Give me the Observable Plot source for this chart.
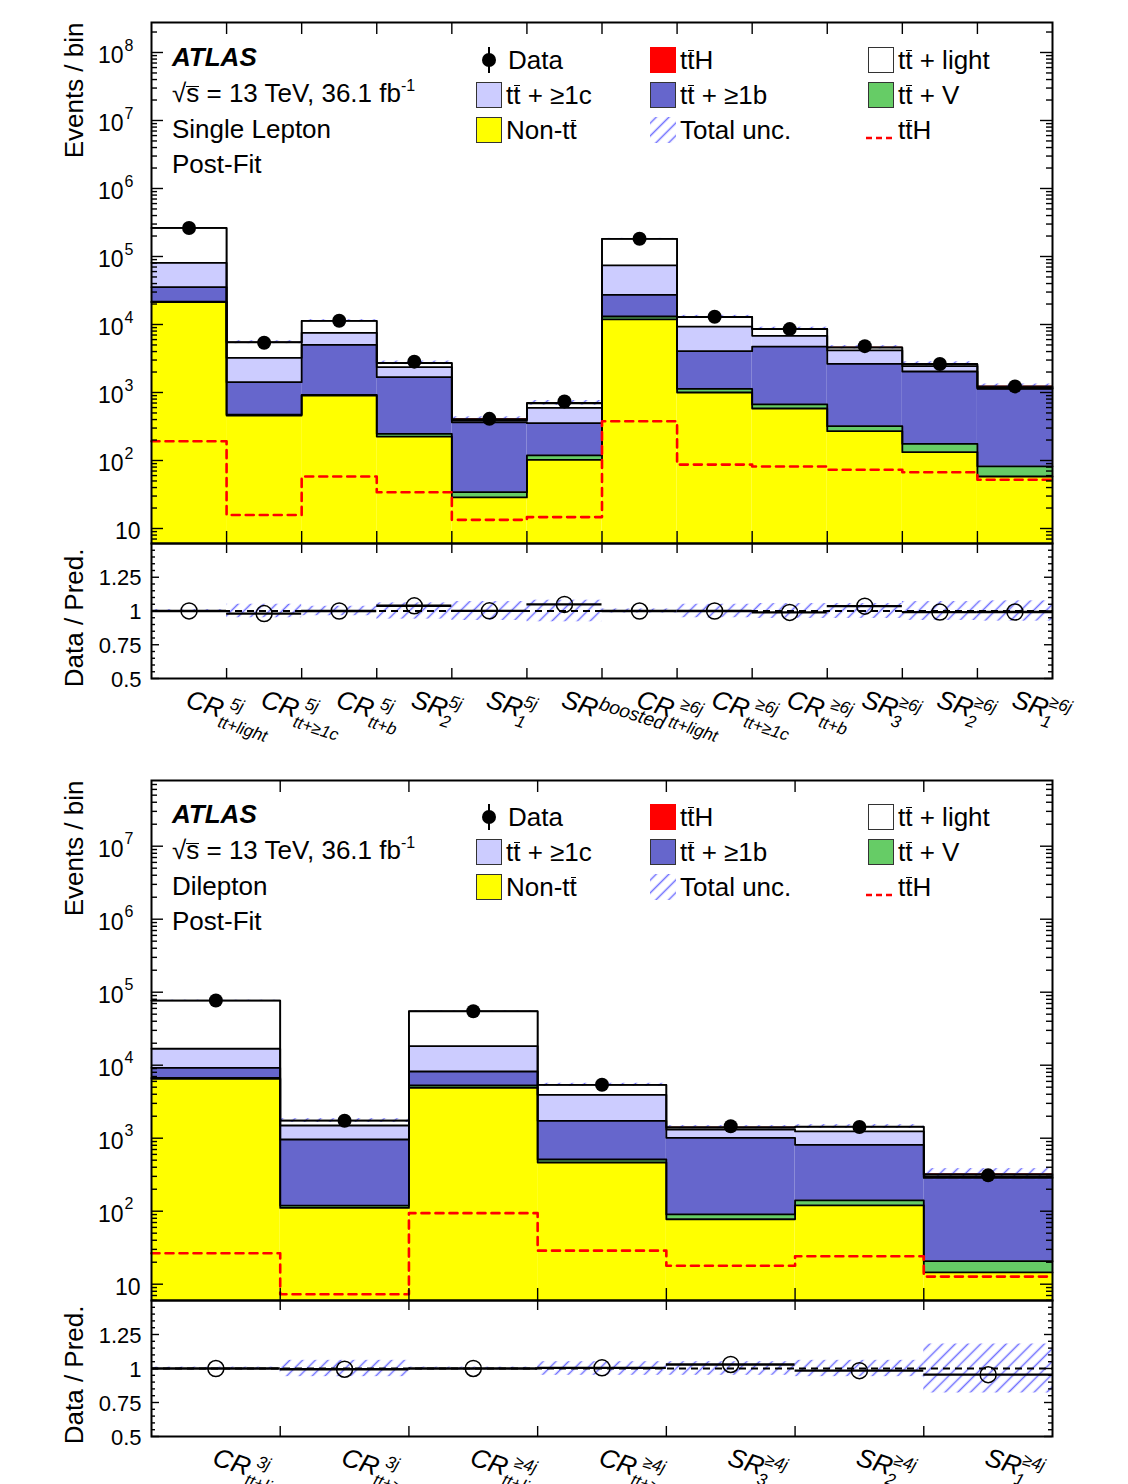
<!DOCTYPE html>
<html>
<head>
<meta charset="utf-8">
<script src="https://cdn.jsdelivr.net/npm/d3@7"></script>
<script src="https://cdn.jsdelivr.net/npm/@observablehq/plot@0.6"></script>
<style>
html,body{margin:0;padding:0;background:#fff;}
#root{position:relative;width:1128px;height:1484px;overflow:hidden;font-family:"Liberation Sans",Arial,Helvetica,sans-serif;color:#000;}
.lbl{position:absolute;white-space:nowrap;line-height:1;transform:translateY(-50%);font-size:26px;}
.ob{position:relative;display:inline-block;}
.ob::after{content:"";position:absolute;left:0.04em;right:0.02em;top:0.1em;border-top:1.6px solid currentColor;}
.os{position:relative;display:inline-block;}
.os::after{content:"";position:absolute;left:-0.02em;right:0;top:0.22em;border-top:1.6px solid currentColor;}
.box{position:absolute;width:26px;height:26px;box-sizing:border-box;border:1.5px solid #333;}
sup{font-size:16px;vertical-align:0;position:relative;top:-11px;}
.abs{position:absolute;}
</style>
</head>
<body>
<svg width="0" height="0" style="position:absolute">
  <defs>
    <pattern id="hatch" patternUnits="userSpaceOnUse" width="9" height="9" patternTransform="rotate(45)">
      <line x1="4.5" y1="0" x2="4.5" y2="9" stroke="#6f6fff" stroke-width="1.5"/>
    </pattern>
  </defs>
</svg>
<div id="root"></div>
<script>
// ---------------- Single Lepton ----------------
const slMain = ["CR","CR","CR","SR","SR","SR","CR","CR","CR","SR","SR","SR"];
const slSup  = ["5j","5j","5j","5j","5j","boosted","≥6j","≥6j","≥6j","≥6j","≥6j","≥6j"];
const slSub  = ["tt+light","tt+≥1c","tt+b","2","1","","tt+light","tt+≥1c","tt+b","3","2","1"];
const slNonTT   = [21280, 459, 904, 225, 28.6, 102, 11860, 1000, 582, 270, 132.7, 58.2];
const slTTV     = [350, 14, 19, 22, 5.6, 16.6, 1260, 132, 85, 50, 43, 24];
const slTTB     = [13770, 943, 4089, 1432, 331, 235, 14230, 2914, 4075, 2322, 1861, 1050];
const slTTC     = [45300, 1820, 2539, 676, 23.4, 242, 46440, 5287, 2081, 1508, 401, 21];
const slTTLight = [182000, 2246, 3750, 351, 10, 98, 107900, 3564, 1758, 423, 147, 42];
const slTTH     = [160, 13, 49, 29, 11, 12, 318, 73, 69, 61, 57, 44];
const slTTHLine = [192, 15.8, 58.2, 34.2, 13.4, 14.7, 378, 87, 81.7, 73, 67.3, 52];
const slData    = [263000, 5390, 11350, 2840, 410, 740, 182000, 12970, 8560, 4800, 2620, 1230];
const slUnc     = [0.01, 0.05, 0.035, 0.06, 0.07, 0.08, 0.015, 0.05, 0.055, 0.055, 0.07, 0.075];

// ---------------- Dilepton ----------------
const dlMain = ["CR","CR","CR","CR","SR","SR","SR"];
const dlSup  = ["3j","3j","≥4j","≥4j","≥4j","≥4j","≥4j"];
const dlSub  = ["tt+light","tt+≥1c","tt+light","tt+≥1c","3","2","1"];
const dlNonTT   = [6516, 111, 4898, 465, 77.6, 120, 14.5];
const dlTTV     = [198, 8.3, 374, 46, 12.6, 20.6, 6.2];
const dlTTB     = [2490, 840, 2932, 1220, 922, 671, 265];
const dlTTC     = [7586, 534, 9996, 2196, 303, 425, 9];
const dlTTLight = [60100, 247, 36670, 1433, 86, 189, 19];
const dlTTH     = [22, 6, 79, 24, 15, 20, 11];
const dlTTHLine = [26.6, 7.3, 94, 28.8, 17.9, 24.2, 12.7];
const dlData    = [76900, 1737, 54950, 5410, 1458, 1423, 310];
const dlUnc     = [0.01, 0.06, 0.01, 0.05, 0.05, 0.06, 0.18];

const ratioTickValues = [0.5, 0.75, 1, 1.25];
const ratioTickLabels = ["0.5", "0.75", "1", "1.25"];

// ---------------- styling ----------------
const W = 1128, ML = 151, MR = 76, PW = W - ML - MR;
const FONT = '"Liberation Sans", Arial, Helvetica, sans-serif';
const COLORS = {nonTT: "#ffff00", ttV: "#66cc66", ttB: "#6666cc", ttC: "#ccccff", light: "#ffffff", ttH: "#ff0000"};
const LAYER_FILLS = [COLORS.nonTT, COLORS.ttV, COLORS.ttB, COLORS.ttC, COLORS.light, COLORS.ttH];
const ROT = 18;

function cumulative(layers) {
  const n = layers[0].length;
  const cum = [];
  let acc = d3.range(n).map(() => 0);
  for (const L of layers) { acc = acc.map((a, i) => a + L[i]); cum.push(acc); }
  return cum;
}
const steps = v => v.flatMap((y, i) => [[i, y], [i + 1, y]]);

function frameTicks(yMajors, yMinors, majLen, minLen, xEdges, xLen, PH) {
  const st = {stroke: "black", strokeWidth: 1.4};
  return [
    Plot.tickY(yMajors, {y: d => d, insetRight: PW - majLen, ...st}),
    Plot.tickY(yMajors, {y: d => d, insetLeft: PW - majLen, ...st}),
    Plot.tickY(yMinors, {y: d => d, insetRight: PW - minLen, ...st}),
    Plot.tickY(yMinors, {y: d => d, insetLeft: PW - minLen, ...st}),
    Plot.tickX(xEdges, {x: d => d, insetBottom: PH - xLen, ...st}),
    Plot.tickX(xEdges, {x: d => d, insetTop: PH - xLen, ...st})
  ];
}

function mainPlot(p) {
  const n = p.data.length;
  const bins = d3.range(n);
  const layers = [p.nonTT, p.ttV, p.ttB, p.ttC, p.light, p.ttH];
  const cum = cumulative(layers);
  const total = cum[cum.length - 1];
  const [y0, y1] = p.yDomain;
  const e0 = Math.ceil(Math.log10(y0)), e1 = Math.floor(Math.log10(y1));
  const majors = d3.range(e0, e1 + 1).map(e => 10 ** e);
  const minors = d3.range(e0 - 1, e1 + 1).flatMap(e => d3.range(2, 10).map(m => m * 10 ** e)).filter(v => v > y0 && v < y1);
  const PH = p.height - p.marginTop;
  return Plot.plot({
    width: W, height: p.height, marginTop: p.marginTop, marginBottom: 0, marginLeft: ML, marginRight: MR,
    x: {domain: [0, n], axis: null},
    y: {type: "log", domain: p.yDomain, axis: null},
    style: {fontFamily: FONT, overflow: "visible", background: "transparent"},
    marks: [
      ...layers.map((L, k) => Plot.rect(bins, {
        x1: i => i, x2: i => i + 1,
        y1: i => (k === 0 ? y0 : cum[k - 1][i]), y2: i => cum[k][i],
        fill: LAYER_FILLS[k]
      })),
      Plot.rect(bins, {x1: i => i, x2: i => i + 1, y1: i => total[i] * (1 - p.unc[i]), y2: i => total[i] * (1 + p.unc[i]), fill: "url(#hatch)"}),
      ...cum.slice(0, 5).map(c => Plot.line(steps(c), {x: d => d[0], y: d => d[1], stroke: "black", strokeWidth: 1.8})),
      Plot.line(steps(total), {x: d => d[0], y: d => d[1], stroke: "black", strokeWidth: 1.4}),
      Plot.line(steps(p.ttHLine), {x: d => d[0], y: d => d[1], stroke: "#ff0000", strokeWidth: 2.6, strokeDasharray: "8,6"}),
      Plot.dot(bins, {x: i => i + 0.5, y: i => p.data[i], r: 7, fill: "black"}),
      ...frameTicks(majors, minors, 12, 6, d3.range(1, n), 12, PH),
      Plot.frame({stroke: "black", strokeWidth: 2}),
      Plot.text(majors.filter(v => v > 10), {y: d => d, text: () => "10", frameAnchor: "left", textAnchor: "end", dx: -28, dy: 3, fontSize: 23}),
      Plot.text(majors.filter(v => v > 10), {y: d => d, text: d => String(Math.round(Math.log10(d))), frameAnchor: "left", textAnchor: "start", dx: -27, dy: -7, fontSize: 16}),
      Plot.text(majors.filter(v => v === 10), {y: d => d, text: () => "10", frameAnchor: "left", textAnchor: "end", dx: -11, dy: 3, fontSize: 23}),
      Plot.text(["Events / bin"], {text: d => d, frameAnchor: "top-left", rotate: -90, textAnchor: "end", lineAnchor: "middle", dx: -77, dy: 0, fontSize: 26})
    ]
  });
}

function catLabelMarks(mainArr, supArr, subArr, dy0) {
  const th = ROT * Math.PI / 180, c = Math.cos(th), s = Math.sin(th);
  const rot = (ox, oy) => [ox * c - oy * s, ox * s + oy * c];
  const bins = d3.range(mainArr.length);
  const base = {frameAnchor: "bottom", rotate: ROT, textAnchor: "start", lineAnchor: "middle", fontStyle: "italic"};
  const mk = (filter, textFn, ox, oy, fs) => {
    const [ddx, ddy] = rot(ox, oy);
    return Plot.text(bins.filter(filter), {...base, x: i => i + 0.5, text: textFn, dx: -2 + ddx, dy: dy0 + ddy, fontSize: fs});
  };
  return [
    mk(() => true, i => mainArr[i], 0, 0, 26),
    mk(i => mainArr[i] === "CR", i => supArr[i], 43, -9, 17),
    mk(i => mainArr[i] === "CR", i => subArr[i], 37, 12, 17),
    mk(i => mainArr[i] === "SR" && subArr[i] !== "", i => supArr[i], 36, -9, 17),
    mk(i => mainArr[i] === "SR" && subArr[i] !== "", i => subArr[i], 34, 12, 17),
    mk(i => subArr[i] === "", i => supArr[i], 37, -7, 19)
  ];
}

function ratioPlot(p) {
  const n = p.data.length;
  const bins = d3.range(n);
  const cum = cumulative([p.nonTT, p.ttV, p.ttB, p.ttC, p.light, p.ttH]);
  const total = cum[cum.length - 1];
  const ratio = bins.map(i => p.data[i] / total[i]);
  const PH = p.height - p.marginBottom;
  const minors = d3.range(11, 30).filter(k => k % 5 !== 0).map(k => k * 0.05);
  return Plot.plot({
    width: W, height: p.height, marginTop: 0, marginBottom: p.marginBottom, marginLeft: ML, marginRight: MR,
    x: {domain: [0, n], axis: null},
    y: {domain: [0.5, 1.5], axis: null},
    style: {fontFamily: FONT, overflow: "visible", background: "transparent"},
    marks: [
      Plot.rect(bins, {x1: i => i, x2: i => i + 1, y1: i => 1 - p.unc[i], y2: i => 1 + p.unc[i], fill: "url(#hatch)"}),
      Plot.ruleY([1], {stroke: "black", strokeWidth: 2, strokeDasharray: "7,5"}),
      Plot.ruleY(bins, {x1: i => i, x2: i => i + 1, y: i => ratio[i], stroke: "black", strokeWidth: 2.4}),
      Plot.dot(bins, {x: i => i + 0.5, y: i => ratio[i], r: 8, stroke: "black", strokeWidth: 1.5, fill: "none"}),
      ...frameTicks(ratioTickValues, minors, 8, 4, d3.range(1, n), 10, PH),
      Plot.frame({stroke: "black", strokeWidth: 2}),
      Plot.text(ratioTickValues, {y: d => d, text: (d, i) => ratioTickLabels[i], frameAnchor: "left", textAnchor: "end", dx: -10, dy: 1, fontSize: 22}),
      Plot.text(["Data / Pred."], {text: d => d, frameAnchor: "top-left", rotate: -90, textAnchor: "end", lineAnchor: "middle", dx: -77, dy: 5, fontSize: 26}),
      ...catLabelMarks(p.mainLbl, p.supLbl, p.subLbl, 20)
    ]
  });
}

const root = document.getElementById("root");
function place(el, top) {
  el.style.position = "absolute";
  el.style.left = "0px";
  el.style.top = top + "px";
  root.appendChild(el);
}

const sl = {nonTT: slNonTT, ttV: slTTV, ttB: slTTB, ttC: slTTC, light: slTTLight, ttH: slTTH, ttHLine: slTTHLine, data: slData, unc: slUnc, mainLbl: slMain, supLbl: slSup, subLbl: slSub};
const dl = {nonTT: dlNonTT, ttV: dlTTV, ttB: dlTTB, ttC: dlTTC, light: dlTTLight, ttH: dlTTH, ttHLine: dlTTHLine, data: dlData, unc: dlUnc, mainLbl: dlMain, supLbl: dlSup, subLbl: dlSub};

place(mainPlot({...sl, height: 543, marginTop: 22, yDomain: [10 ** 0.7794, 10 ** 8.441]}), 0);
place(ratioPlot({...sl, height: 210, marginBottom: 75}), 543);
place(mainPlot({...dl, height: 542, marginTop: 22, yDomain: [10 ** 0.7767, 10 ** 7.9]}), 758);
place(ratioPlot({...dl, height: 184, marginBottom: 48}), 1300);

// ---------------- header text & legend (HTML overlay) ----------------
const TT = 't<span class="ob">t</span>';
function lbl(x, y, html, size) {
  const d = document.createElement("div");
  d.className = "lbl";
  d.style.left = x + "px"; d.style.top = y + "px";
  if (size) d.style.fontSize = size + "px";
  d.innerHTML = html;
  root.appendChild(d);
}
function box(x, yc, fill, border) {
  const d = document.createElement("div");
  d.className = "box";
  d.style.left = x + "px"; d.style.top = (yc - 13) + "px";
  d.style.background = fill;
  if (border) d.style.borderColor = border;
  root.appendChild(d);
}
function svgAt(x, y, w, h, inner) {
  const d = document.createElement("div");
  d.className = "abs";
  d.style.left = x + "px"; d.style.top = y + "px";
  d.innerHTML = `<svg width="${w}" height="${h}" xmlns="http://www.w3.org/2000/svg">${inner}</svg>`;
  root.appendChild(d);
}
function header(off, channel) {
  lbl(172, 57 + off, "<b><i>ATLAS</i></b>");
  lbl(172, 93 + off, '√<span class="os">s</span> = 13 TeV, 36.1 fb<sup>-1</sup>');
  lbl(172, 129 + off, channel);
  lbl(172, 164 + off, "Post-Fit");
  const r1 = 60 + off, r2 = 95 + off, r3 = 130 + off;
  svgAt(479, r1 - 14, 20, 28, '<line x1="10" y1="1" x2="10" y2="27" stroke="black" stroke-width="2"/><circle cx="10" cy="14" r="7" fill="black"/>');
  lbl(508, r1, "Data");
  box(476, r2, COLORS.ttC); lbl(506, r2, TT + " + ≥1c");
  box(476, r3, COLORS.nonTT); lbl(506, r3, "Non-" + TT);
  box(650, r1, COLORS.ttH, "#ff0000"); lbl(680, r1, TT + "H");
  box(650, r2, COLORS.ttB); lbl(680, r2, TT + " + ≥1b");
  svgAt(650, r3 - 13, 26, 26, '<rect x="0" y="0" width="26" height="26" fill="url(#hatch)"/>');
  lbl(680, r3, "Total unc.");
  box(868, r1, "#ffffff"); lbl(898, r1, TT + " + light");
  box(868, r2, COLORS.ttV); lbl(898, r2, TT + " + V");
  svgAt(866, r3 - 3, 30, 6, '<line x1="0" y1="3" x2="28" y2="3" stroke="#ff0000" stroke-width="2.6" stroke-dasharray="6,4"/>');
  lbl(898, r3, TT + "H");
}
header(0, "Single Lepton");
header(757, "Dilepton");
</script>
</body>
</html>
